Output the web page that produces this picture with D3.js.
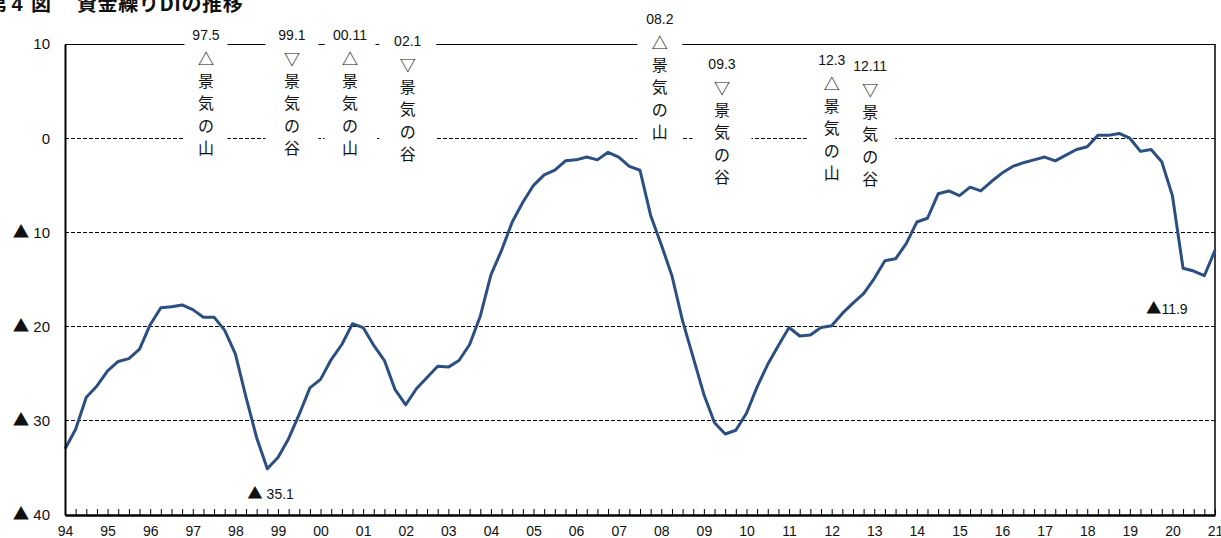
<!DOCTYPE html>
<html>
<head>
<meta charset="utf-8">
<script src="https://cdn.jsdelivr.net/npm/d3@7"></script>
<style>
  html, body { margin: 0; padding: 0; background: #fff; }
  svg { display: block; }
</style>
</head>
<body>
<svg id="chart" width="1221" height="538"></svg>
<script>
// 資金繰りDI（四半期）1994年1-3月期 〜 2021年1-3月期
const years = ["94","95","96","97","98","99","00","01","02","03","04","05","06","07",
               "08","09","10","11","12","13","14","15","16","17","18","19","20","21"];
const diValues = [
  -33.0, -30.9, -27.5, -26.3,   // 94
  -24.7, -23.7, -23.4, -22.4,   // 95
  -19.8, -18.0, -17.9, -17.7,   // 96
  -18.2, -19.0, -19.0, -20.4,   // 97
  -22.9, -27.5, -31.8, -35.1,   // 98
  -33.9, -31.9, -29.3, -26.5,   // 99
  -25.6, -23.5, -21.9, -19.7,   // 00
  -20.1, -22.0, -23.6, -26.7,   // 01
  -28.3, -26.6, -25.4, -24.2,   // 02
  -24.3, -23.6, -21.9, -18.9,   // 03
  -14.5, -11.9,  -8.9,  -6.8,   // 04
   -5.0,  -3.9,  -3.4,  -2.4,   // 05
   -2.3,  -2.0,  -2.3,  -1.5,   // 06
   -2.0,  -3.0,  -3.4,  -8.2,   // 07
  -11.3, -14.6, -19.4, -23.3,   // 08
  -27.2, -30.2, -31.4, -31.0,   // 09
  -29.2, -26.4, -24.0, -22.0,   // 10
  -20.1, -21.0, -20.9, -20.1,   // 11
  -19.9, -18.6, -17.5, -16.5,   // 12
  -14.9, -13.0, -12.8, -11.2,   // 13
   -8.9,  -8.5,  -5.9,  -5.6,   // 14
   -6.1,  -5.2,  -5.6,  -4.6,   // 15
   -3.7,  -3.0,  -2.6,  -2.3,   // 16
   -2.0,  -2.4,  -1.8,  -1.2,   // 17
   -0.9,   0.3,   0.3,   0.5,   // 18
    0.0,  -1.4,  -1.2,  -2.5,   // 19
   -6.1, -13.8, -14.1, -14.6,   // 20
  -11.9                         // 21
];
const yTicks = [10, 0, -10, -20, -30, -40];

// 景気の山・谷（年.月）
const turnLabels = ["97.5", "99.1", "00.11", "02.1", "08.2", "09.3", "12.3", "12.11"];
const turnYears  = [1997, 1999, 2000, 2002, 2008, 2009, 2012, 2012];
const turnMonths = [5, 1, 11, 1, 2, 3, 3, 11];
const turnKinds  = ["山", "谷", "山", "谷", "山", "谷", "山", "谷"];

// 値ラベル（最低値・最新値）
const noteIndex = [19, 108];

// レイアウト
const turnNudge = [-1, 14, -6, 2, -5, 11, -7, 3];
const turnTop   = [35, 35, 35, 41, 19, 64, 60, 66];
const turnBoxW  = [43, 53, 51, 57, 45, 59, 50, 50];
const noteOffset = [[-20, 25], [-69, 59]];
const noteGap = [" ", ""];

const svg = d3.select("#chart");
const x = d3.scaleLinear().domain([0, diValues.length - 1]).range([65, 1215]);
const y = d3.scaleLinear().domain([-40, 10]).range([515, 44]);
const left = x.range()[0], right = x.range()[1];
const lineColor = "#2b4f83";
const latin = "'Liberation Sans', Arial, sans-serif";
const cjk = "'Noto Sans CJK JP', 'Noto Sans CJK SC', sans-serif";

// 負値の表記：▲ + 絶対値
function negLabel(sel, v, gap, digits) {
  sel.text(null);
  const abs = Math.abs(v);
  const num = digits == null ? String(abs) : abs.toFixed(digits);
  if (v < 0) {
    sel.append("tspan").attr("font-family", cjk).attr("font-size", "1.1em").text("▲");
    sel.append("tspan").text(gap + num);
  } else {
    sel.append("tspan").text(num);
  }
}

// タイトル（上端で切れている）
const title = svg.append("g").attr("font-family", cjk).attr("font-weight", "bold")
  .attr("font-size", 20).attr("fill", "#111");
title.append("text").attr("x", -13).attr("y", 11).text("第");
title.append("text").attr("x", 17).attr("y", 11).attr("text-anchor", "middle")
  .attr("font-family", latin).text("4");
title.append("text").attr("x", 31).attr("y", 11).text("図");
title.append("text").attr("x", 77).attr("y", 11).attr("letter-spacing", 0.6)
  .text("資金繰りDIの推移");

// 横罫線
svg.append("g").selectAll("line")
  .data(yTicks.filter(v => v > -40))
  .join("line")
  .attr("x1", left).attr("x2", right)
  .attr("y1", d => y(d)).attr("y2", d => y(d))
  .attr("stroke", "#000").attr("stroke-width", 1)
  .attr("stroke-dasharray", d => d === 10 ? null : "4,2")
  .attr("shape-rendering", "crispEdges");

// 右端の枠線
svg.append("line")
  .attr("x1", right).attr("x2", right)
  .attr("y1", y(10)).attr("y2", y(-40))
  .attr("stroke", "#000").attr("stroke-width", 1.5);

// 景気の山・谷の注記
const turnX = turnYears.map((yr, i) => x((yr - 1994) * 4 + (turnMonths[i] - 1) / 3) + turnNudge[i]);
const stepY = [0, 24, 46, 68, 91, 113];
const turns = svg.append("g");
turnLabels.forEach((lab, i) => {
  const g = turns.append("g").attr("transform", `translate(${turnX[i]},${turnTop[i]})`);
  g.append("rect")
    .attr("x", -turnBoxW[i] / 2).attr("width", turnBoxW[i])
    .attr("y", -10).attr("height", stepY[5] + 21)
    .attr("fill", "#fff");
  g.append("text").attr("y", stepY[0]).attr("dy", "0.35em").attr("text-anchor", "middle")
    .attr("font-family", latin).attr("font-size", 14).attr("fill", "#111").text(lab);
  const glyphs = [turnKinds[i] === "山" ? "△" : "▽", "景", "気", "の", turnKinds[i]];
  glyphs.forEach((c, k) => {
    g.append("text").attr("y", stepY[k + 1]).attr("dy", "0.36em").attr("text-anchor", "middle")
      .attr("font-family", cjk).attr("font-size", 16).attr("fill", "#111").text(c);
  });
});

// 資金繰りDIの折れ線
const line = d3.line().x((d, i) => x(i)).y(d => y(d));
svg.append("path")
  .datum(diValues)
  .attr("d", line)
  .attr("fill", "none")
  .attr("stroke", lineColor)
  .attr("stroke-width", 3)
  .attr("stroke-linejoin", "round");

// 値ラベル
svg.append("g").selectAll("text")
  .data(noteIndex)
  .join("text")
  .attr("x", (d, k) => x(d) + noteOffset[k][0])
  .attr("y", (d, k) => y(diValues[d]) + noteOffset[k][1])
  .attr("dy", "0.35em")
  .attr("font-family", latin).attr("font-size", 14).attr("fill", "#111")
  .each(function (d, k) { negLabel(d3.select(this), diValues[d], noteGap[k], 1); });

// 縦軸
const yAxis = d3.axisLeft(y)
  .tickValues(yTicks)
  .tickSize(0)
  .tickPadding(15);
const gy = svg.append("g").attr("transform", `translate(${left},0)`).call(yAxis);
gy.select(".domain").attr("stroke", "#000").attr("stroke-width", 2);
gy.selectAll("text")
  .attr("font-family", latin).attr("font-size", 15).attr("fill", "#111")
  .each(function (v) { negLabel(d3.select(this), v, " ", null); });

// 横軸（四半期目盛り・年ラベル）
const xAxis = d3.axisBottom(x)
  .tickValues(d3.range(0, diValues.length))
  .tickSizeInner(-6)
  .tickSizeOuter(0)
  .tickPadding(11)
  .tickFormat(i => i % 4 === 0 ? years[i / 4] : "");
const gx = svg.append("g").attr("transform", `translate(0,${y(-40)})`).call(xAxis);
gx.select(".domain").attr("stroke", "#000").attr("stroke-width", 2.5);
gx.selectAll(".tick line").attr("stroke", "#000").attr("stroke-width", 1);
gx.selectAll("text")
  .attr("font-family", "'Liberation Sans Narrow', 'Liberation Sans', sans-serif")
  .attr("font-size", 14).attr("fill", "#111");
</script>
</body>
</html>
